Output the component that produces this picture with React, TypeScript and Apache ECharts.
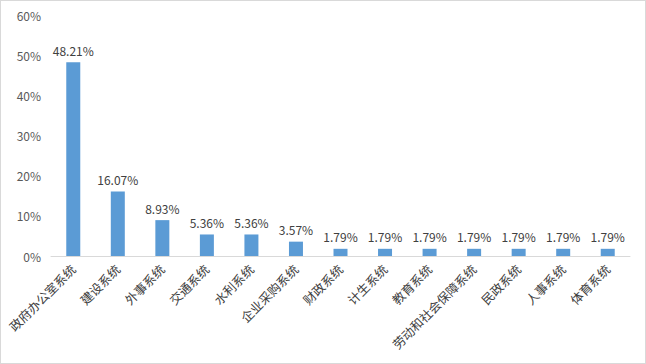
import React, { useEffect, useRef } from "react";
import * as echarts from "echarts";

const categories = [
  "政府办公室系统",
  "建设系统",
  "外事系统",
  "交通系统",
  "水利系统",
  "企业采购系统",
  "财政系统",
  "计生系统",
  "教育系统",
  "劳动和社会保障系统",
  "民政系统",
  "人事系统",
  "体育系统",
];
const values = [48.21, 16.07, 8.93, 5.36, 5.36, 3.57, 1.79, 1.79, 1.79, 1.79, 1.79, 1.79, 1.79];
const yTicks = [0, 10, 20, 30, 40, 50, 60];

export default function App() {
  const ref = useRef<HTMLDivElement>(null);
  useEffect(() => {
    if (!ref.current) return;
    const chart = echarts.init(ref.current, null, { renderer: "svg" });
    const font = "'Noto Sans CJK SC', 'Noto Sans', sans-serif";
    chart.setOption({
      animation: false,
      backgroundColor: "#ffffff",
      grid: { left: 50, right: 15, top: 14, bottom: 107, containLabel: false },
      xAxis: {
        type: "category",
        data: categories,
        axisLine: { lineStyle: { color: "#d9d9d9", width: 1 } },
        axisTick: { show: false },
        axisLabel: {
          rotate: 45,
          interval: 0,
          color: "#404040",
          fontSize: 12.5,
          fontFamily: font,
          margin: 11,
        },
      },
      yAxis: {
        type: "value",
        min: yTicks[0],
        max: yTicks[yTicks.length - 1],
        interval: 10,
        splitLine: { show: false },
        axisLine: { show: false },
        axisTick: { show: false },
        axisLabel: {
          formatter: (v: number) => `${v}%`,
          color: "#595959",
          fontSize: 12,
          fontFamily: font,
          margin: 10,
        },
      },
      series: [
        {
          type: "bar",
          data: values,
          barWidth: 14,
          itemStyle: { color: "#5b9bd5" },
          label: {
            show: true,
            position: "top",
            distance: 6,
            formatter: (p: any) => `${p.value.toFixed(2)}%`,
            color: "#404040",
            fontSize: 12,
            fontFamily: font,
          },
        },
      ],
    });
    return () => chart.dispose();
  }, []);
  return (
    <div
      style={{
        position: "fixed",
        left: 0,
        top: 0,
        width: 646,
        height: 364,
        boxSizing: "border-box",
        border: "1px solid #d9d9d9",
        background: "#fff",
      }}
    >
      <div ref={ref} style={{ width: 644, height: 362 }} />
    </div>
  );
}
